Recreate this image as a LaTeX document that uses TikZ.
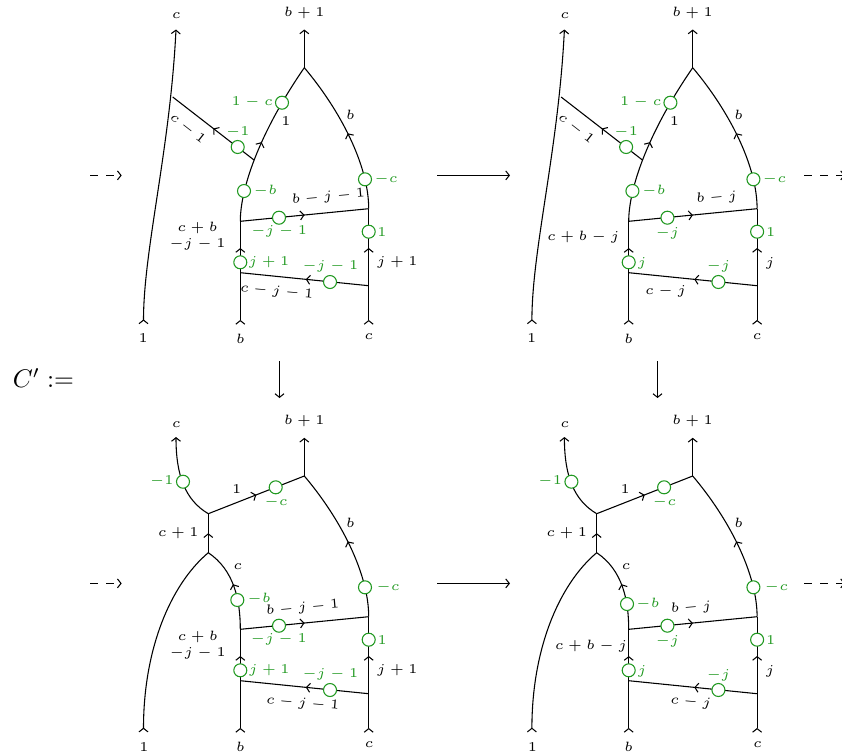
\documentclass[tikz,border=0pt]{standalone}
\usetikzlibrary{arrows.meta,decorations.markings}
\definecolor{gr}{rgb}{0.13,0.60,0.13}
\tikzset{
  bigtip/.tip={Straight Barb[length=3.6pt,width=9pt,line width=1.05pt]},
  strand/.style={line width=1.08pt},
  tipend/.style={strand,-{bigtip}},
  midtip/.style={strand,postaction={decorate},decoration={markings,mark=at position #1 with {\arrow{bigtip}}}},
  bottip/.style={midtip=0.002},
  dot/.style={circle,draw=gr,line width=1.08pt,fill=white,minimum size=13pt,inner sep=0pt},
  lab/.style={scale=2.7,inner sep=0pt,font=\tiny,align=center},
  glab/.style={lab,text=gr},
  maparrow/.style={strand,-{bigtip}},
  dasharrow/.style={strand,dash pattern=on 8pt off 8pt,-{bigtip}}
}
% parts common to all four diagrams
\newcommand{\ladder}{%
  \coordinate (bb) at (240.3,320);
  \coordinate (bc) at (368.7,320);
  \coordinate (ll) at (240.3,272.7);
  \coordinate (lr) at (368.7,285.7);
  \coordinate (ul) at (240.3,221.3);
  \coordinate (ur) at (368.7,208.7);
  \draw[bottip] (bb) -- (ll);
  \draw[midtip=0.48] (ll) -- (ul);
  \draw[bottip] (bc) -- (lr);
  \draw[midtip=0.49] (lr) -- (ur);
  \draw[midtip=0.49] (lr) -- (ll);
  \draw[midtip=0.5] (ul) -- (ur);
  \node[dot] (d1) at (240.3,262.3) {};
  \node[dot] (d2) at (330,282) {};
  \node[dot] (d3) at (279,217.7) {};
  \node[dot] (d4) at (368.7,231.7) {};
}
\newcommand{\rightside}[1]{% #1 = y of the top vertex
  \coordinate (tv) at (304.3,#1);
  \coordinate (tt) at (304.3,29.5+#1-67.7);
  \draw[tipend] (tv) -- (tt);
}
\newcommand{\uppertop}{%
  \rightside{67.7}
  \coordinate (ltop) at (176,29.5);
  \coordinate (lbot) at (143.5,320);
  \coordinate (lj) at (172.7,97);
  \coordinate (rj) at (254,160);
  \draw[bottip,-{bigtip}] (lbot) .. controls (143.5,250) and (170,150) .. (ltop);
  \draw[midtip=0.49] (ul) .. controls (240.3,190) and (258,135) .. (tv);
  \draw[midtip=0.5] (ur) .. controls (368.7,165) and (340,110) .. (tv);
  \draw[midtip=0.5] (rj) -- (lj);
  \node[dot] (d5) at (244,191) {};
  \node[dot] (d6) at (365,179.3) {};
  \node[dot] (d7) at (282,102.7) {};
  \node[dot] (d8) at (237.7,147) {};
  \node[lab] (l1) at (176.3,15.7) {$c$};
  \node[lab] (l2) at (304.3,12.7) {$b+1$};
  \node[glab] (l3) at (252.3,101.7) {$1-c$};
  \node[lab] (l4) at (286,120.7) {$1$};
  \node[lab] (l5) at (350.3,114.7) {$b$};
  \node[glab] (l6) at (237.7,132) {$-1$};
  \node[lab,rotate=-38] (l7) at (187.7,128.3) {$c-1$};
  \node[glab] (l8) at (386,179.3) {$-c$};
  \node[glab] (l9) at (265.3,191) {$-b$};
}
\newcommand{\lowertop}[2]{% #1,#2 = position of the -b circle
  \rightside{476}
  \coordinate (ltop) at (176,437);
  \coordinate (lbot) at (143.5,728);
  \coordinate (j1) at (208.3,513.7);
  \coordinate (j2) at (208.3,552.7);
  \draw[midtip=0.5] (j2) -- (j1);
  \draw[tipend] (j1) .. controls (185,500) and (176,475) .. (ltop);
  \draw[midtip=0.5] (j1) -- (tv);
  \draw[bottip] (lbot) .. controls (143.5,650) and (170,585) .. (j2);
  \draw[midtip=0.53] (ul) .. controls (240.3,600) and (234,570) .. (j2);
  \draw[midtip=0.5] (ur) .. controls (368.7,573) and (340,518) .. (tv);
  \node[dot] (d5) at (#1,#2) {};
  \node[dot] (d6) at (365,587.3) {};
  \node[dot] (d7) at (183,481.7) {};
  \node[dot] (d8) at (275.7,487.3) {};
  \node[lab] (l1) at (176.3,424.3) {$c$};
  \node[lab] (l2) at (304.3,420.7) {$b+1$};
  \node[glab] (l3) at (161.7,480.7) {$-1$};
  \node[glab] (l4) at (276,501.7) {$-c$};
  \node[lab] (l5) at (236.7,489) {$1$};
  \node[lab] (l6) at (178.3,533.3) {$c+1$};
  \node[lab] (l7) at (237.7,566.7) {$c$};
  \node[lab] (l8) at (350.3,523) {$b$};
  \node[glab] (l9) at (388,587.3) {$-c$};
}
\begin{document}
\begin{tikzpicture}[x=1pt,y=-1pt]
\useasboundingbox (0,0) rectangle (842,755);

% top left
\begin{scope}[name prefix=a-]
  \ladder
  \uppertop
  \node[lab,rotate=5] (t1) at (328.3,196.7) {$b-j-1$};
  \node[glab] (t2) at (279,231.7) {$-j-1$};
  \node[glab] (t3) at (382,231.7) {$1$};
  \node[lab] (t4) at (197.5,236) {$c+b$\\$-j-1$};
  \node[glab] (t5) at (269,262.3) {$j+1$};
  \node[glab] (t6) at (330.3,266) {$-j-1$};
  \node[lab] (t7) at (397.3,262.3) {$j+1$};
  \node[lab,rotate=-5] (t8) at (276.7,291.7) {$c-j-1$};
  \node[lab] (t9) at (143.3,337.7) {$1$};
  \node[lab] (t10) at (240.3,338.7) {$b$};
  \node[lab] (t11) at (368.7,336.7) {$c$};
\end{scope}

% top right
\begin{scope}[shift={(388.4,0)},name prefix=b-]
  \ladder
  \uppertop
  \node[lab,rotate=5] (t1) at (328.3,197.7) {$b-j$};
  \node[glab] (t2) at (279,233.3) {$-j$};
  \node[glab] (t3) at (382.3,231.7) {$1$};
  \node[lab] (t4) at (194.9,236.7) {$c+b-j$};
  \node[glab] (t5) at (253.6,263.3) {$j$};
  \node[glab] (t6) at (330,266.7) {$-j$};
  \node[lab] (t7) at (381.6,263.3) {$j$};
  \node[lab] (t8) at (277.3,291) {$c-j$};
  \node[lab] (t9) at (143.3,337.7) {$1$};
  \node[lab] (t10) at (240.3,338.7) {$b$};
  \node[lab] (t11) at (368.7,336.7) {$c$};
\end{scope}

% bottom left
\begin{scope}[shift={(0,408)},name prefix=c-]
  \ladder
\end{scope}
\begin{scope}[name prefix=c-]
  \coordinate (ul) at (240.3,629.3);
  \coordinate (ur) at (368.7,616.7);
  \lowertop{237.3}{600}
  \node[glab] (t0) at (259,599) {$-b$};
  \node[lab,rotate=5] (t1) at (302.7,607.7) {$b-j-1$};
  \node[glab] (t2) at (278.7,639.3) {$-j-1$};
  \node[glab] (t3) at (382.3,640) {$1$};
  \node[lab] (t4) at (197.7,645.5) {$c+b$\\$-j-1$};
  \node[glab] (t5) at (269.3,670) {$j+1$};
  \node[glab] (t6) at (330.3,674) {$-j-1$};
  \node[lab] (t7) at (397.3,670) {$j+1$};
  \node[lab,rotate=-5] (t8) at (302.7,703.3) {$c-j-1$};
  \node[lab] (t9) at (144,746.7) {$1$};
  \node[lab] (t10) at (240.3,746.7) {$b$};
  \node[lab] (t11) at (369,744.7) {$c$};
\end{scope}

% bottom right
\begin{scope}[shift={(388.4,408)},name prefix=d-]
  \ladder
\end{scope}
\begin{scope}[shift={(388.4,0)},name prefix=d-]
  \coordinate (ul) at (240.3,629.3);
  \coordinate (ur) at (368.7,616.7);
  \lowertop{238.6}{604}
  \node[glab] (t0) at (259.3,604) {$-b$};
  \node[lab,rotate=5] (t1) at (302.6,607.7) {$b-j$};
  \node[glab] (t2) at (278.9,641.7) {$-j$};
  \node[glab] (t3) at (382.3,640) {$1$};
  \node[lab] (t4) at (202.6,646) {$c+b-j$};
  \node[glab] (t5) at (253.6,671) {$j$};
  \node[glab] (t6) at (329.9,675) {$-j$};
  \node[lab] (t7) at (381.6,671) {$j$};
  \node[lab,rotate=-5] (t8) at (302.3,702.3) {$c-j$};
  \node[lab] (t9) at (144,746.7) {$1$};
  \node[lab] (t10) at (240.3,746.7) {$b$};
  \node[lab] (t11) at (369,744.7) {$c$};
\end{scope}

% maps between diagrams
\coordinate (m1a) at (437,175.4);  \coordinate (m1b) at (510,175.4);
\coordinate (m2a) at (437,583.4);\coordinate (m2b) at (510,583.4);
\coordinate (m3a) at (279.5,361);  \coordinate (m3b) at (279.5,398);
\coordinate (m4a) at (657.5,361);  \coordinate (m4b) at (657.5,398);
\coordinate (m5a) at (90,175.4);   \coordinate (m5b) at (121.7,175.4);
\coordinate (m6a) at (90,583.4); \coordinate (m6b) at (121.7,583.4);
\coordinate (m7a) at (804,175.4);  \coordinate (m7b) at (845,175.4);
\coordinate (m8a) at (804,583.4);\coordinate (m8b) at (845,583.4);
\draw[maparrow] (m1a) -- (m1b);
\draw[maparrow] (m2a) -- (m2b);
\draw[maparrow] (m3a) -- (m3b);
\draw[maparrow] (m4a) -- (m4b);
\draw[dasharrow] (m5a) -- (m5b);
\draw[dasharrow] (m6a) -- (m6b);
\draw[dasharrow] (m7a) -- (m7b);
\draw[dasharrow] (m8a) -- (m8b);
\node[scale=2.55,inner sep=0pt] (cdef) at (43.5,378) {$C' :=$};
\end{tikzpicture}
\end{document}
